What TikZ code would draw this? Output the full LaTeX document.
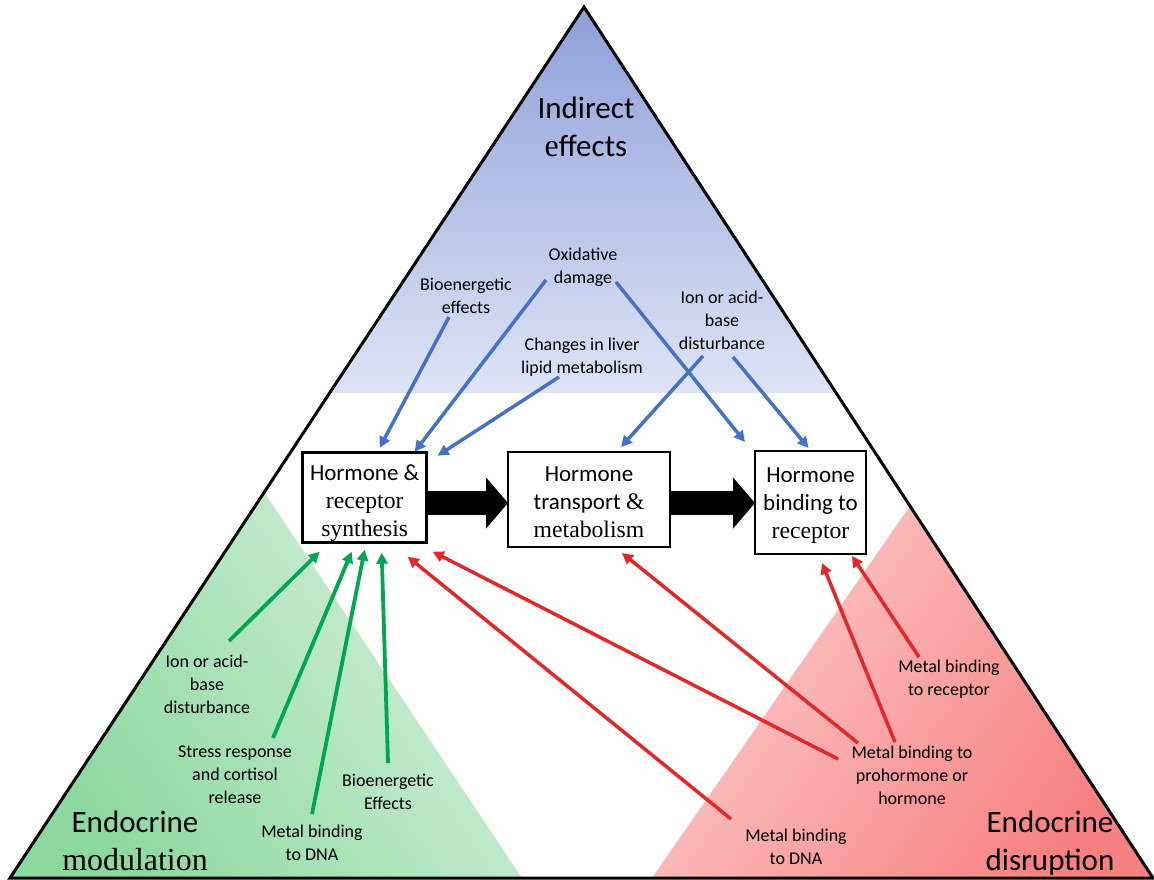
\documentclass[tikz,border=0pt]{standalone}
\usepackage{fontspec}
\setmainfont{Carlito}
\newfontfamily\serifpart[Scale=1.03]{Liberation Serif}
\usetikzlibrary{arrows.meta,calc}
\definecolor{arrblue}{RGB}{68,114,196}
\definecolor{arrgreen}{RGB}{0,166,81}
\definecolor{arrred}{RGB}{226,40,40}
\definecolor{bluetop}{RGB}{142,160,217}
\definecolor{bluebot}{RGB}{222,228,245}
\definecolor{greenlight}{RGB}{210,240,218}
\definecolor{greendark}{RGB}{140,216,158}
\definecolor{redlight}{RGB}{252,204,204}
\definecolor{reddark}{RGB}{247,128,128}
\begin{document}
\begin{tikzpicture}[x=1pt,y=-1pt,
  box/.style={draw=black, line width=2.7pt, inner sep=0pt, outer sep=0pt},
  boxtext/.style={align=center, inner sep=0pt, font=\fontsize{23}{28}\selectfont},
  lab/.style={align=center, inner sep=0pt, font=\fontsize{18}{23}\selectfont},
  big/.style={align=center, inner sep=0pt, font=\fontsize{31}{38}\selectfont},
  conn/.style={line width=3.5pt, -{Triangle[length=11pt,width=11pt]}},
  bconn/.style={conn, draw=arrblue, fill=arrblue},
  gconn/.style={conn, draw=arrgreen, fill=arrgreen, line width=3.8pt},
  rconn/.style={conn, draw=arrred, fill=arrred},
  blockarrow/.style={draw=black, line width=24pt, -{Triangle[length=22pt,width=50pt]}}
]
\useasboundingbox (0,0) rectangle (1154,880);
\fill[white] (0,0) rectangle (1154,880);

% coloured regions
\shade[top color=bluetop, bottom color=bluebot] (584,7) -- (331.6,393) -- (834,393) -- cycle;
\shade[top color=greenlight, bottom color=greendark, shading angle=-56] (264,492) -- (10,878) -- (522,878) -- cycle;
\shade[top color=redlight, bottom color=reddark, shading angle=55] (910,506) -- (652,878) -- (1153,878) -- cycle;

% outline triangle
\draw[line width=3pt, line join=miter] (584,7) -- (10,878) -- (1153,878) -- cycle;

% boxes
\node[box, minimum width=124pt, minimum height=90pt] (b1) at (364.7,497.7) {};
\node[box, minimum width=162pt, minimum height=95pt] (b2) at (589,499.5) {};
\node[box, minimum width=111pt, minimum height=103pt] (b3) at (810.5,502.5) {};
\node[boxtext] (b1t) at ($(b1)+(0,5.5)$) {Hormone \&\\{\serifpart receptor}\\{\serifpart synthesis}};
\node[boxtext] (b2t) at ($(b2)+(0,2.5)$) {Hormone\\transport {\serifpart\&}\\{\serifpart metabolism}};
\node[boxtext] (b3t) at ($(b3)+(0,3.5)$) {Hormone\\binding to\\{\serifpart receptor}};

% block arrows
\draw[blockarrow] (b1.east |- 0,503) -- (b2.west |- 0,503);
\draw[blockarrow] (b2.east |- 0,503) -- (b3.west |- 0,503);

% big labels
\node[big] (ind) at (586,127) {Indirect\\{\serifpart e}ffects};
\node[big] (mod) at (135,841) {Endocrine\\{\serifpart modulation}};
\node[big] (dis) at (1050,843) {Endocrine\\disruption};

% small labels
\node[lab] (lbio) at (466,296) {Bioenergetic\\effects};
\node[lab] (lox) at (583,267) {Oxidative\\damage};
\node[lab] (lchg) at (582,357) {Changes in liver\\lipid metabolism};
\node[lab] (lionb) at (722,320.5) {Ion or acid-\\base\\disturbance};
\node[lab] (liong) at (207,684.5) {Ion or acid-\\base\\disturbance};
\node[lab] (lstr) at (235,774.5) {Stress response\\and cortisol\\release};
\node[lab] (lbiog) at (388,791.5) {Bioenergetic\\Effects};
\node[lab] (ldnag) at (312,842.5) {Metal binding\\to DNA};
\node[lab] (lrec) at (949,679.5) {Metal binding\\to receptor};
\node[lab] (lpro) at (912,775.5) {Metal binding to\\prohormone or\\hormone};
\node[lab] (ldnar) at (796,847) {Metal binding\\to DNA};

% connector start points
\coordinate (sb1) at (449,317);
\coordinate (sb2) at (546,280);
\coordinate (sb3) at (559,377);
\coordinate (sb4) at (616,282);
\coordinate (sb5) at (703,356);
\coordinate (sb6) at (733,357);
\coordinate (sg1) at (229,641);
\coordinate (sg2) at (273,738);
\coordinate (sg3) at (312,814);
\coordinate (sg4) at (388,763);
\coordinate (sr1) at (919,657);
\coordinate (sr2) at (895,742);
\coordinate (sr3) at (858,743);
\coordinate (sr4) at (838,759);
\coordinate (sr5) at (731,819);

% blue connectors
\draw[bconn] (sb1) -- ([xshift=77pt,yshift=5pt]b1.north west);
\draw[bconn] (sb2) -- ([xshift=-12pt,yshift=1pt]b1.north east);
\draw[bconn] (sb3) -- ([xshift=11pt,yshift=-3pt]b1.north east);
\draw[bconn] (sb4) -- ([xshift=-10pt,yshift=9pt]b3.north west);
\draw[bconn] (sb5) -- ([xshift=32pt,yshift=5pt]b2.north);
\draw[bconn] (sb6) -- ([xshift=-2pt,yshift=3pt]b3.north);

% green connectors
\draw[gconn] (sg1) -- ([xshift=17pt,yshift=-9pt]b1.south west);
\draw[gconn] (sg2) -- ([xshift=49pt,yshift=-9pt]b1.south west);
\draw[gconn] (sg3) -- ([xshift=62pt,yshift=-7pt]b1.south west);
\draw[gconn] (sg4) -- ([xshift=79pt,yshift=-10pt]b1.south west);

% red connectors
\draw[rconn] (sr1) -- ([xshift=-14pt,yshift=-2pt]b3.south east);
\draw[rconn] (sr2) -- ([xshift=-44pt,yshift=-9pt]b3.south east);
\draw[rconn] (sr3) -- ([xshift=33pt,yshift=-6pt]b2.south);
\draw[rconn] (sr4) -- ([xshift=6pt,yshift=-9pt]b1.south east);
\draw[rconn] (sr5) -- ([xshift=-19pt,yshift=-14pt]b1.south east);
\end{tikzpicture}
\end{document}
